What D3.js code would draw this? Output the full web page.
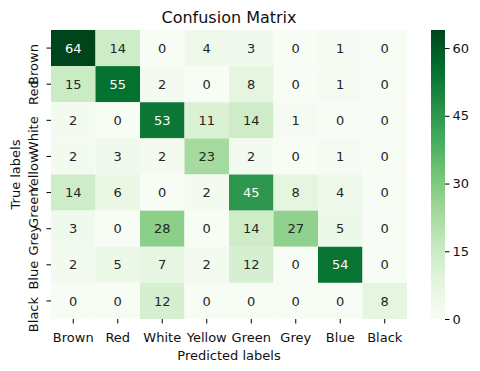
<!DOCTYPE html>
<html>
<head>
<meta charset="utf-8">
<script src="https://cdn.jsdelivr.net/npm/d3@7"></script>
<style>
	body { margin: 0; background: #fff; }
	svg text { font-family: "DejaVu Sans", sans-serif; }
</style>
</head>
<body>
<svg width="480" height="371"></svg>
<script>
// class names, same order on both axes
const labels = [ "Brown", "Red", "White", "Yellow", "Green", "Grey", "Blue", "Black" ];

// one row per true label, columns = predicted label
const row_brown  = [ 64, 14, 0, 4, 3, 0, 1, 0 ];
const row_red    = [ 15, 55, 2, 0, 8, 0, 1, 0 ];
const row_white  = [ 2, 0, 53, 11, 14, 1, 0, 0 ];
const row_yellow = [ 2, 3, 2, 23, 2, 0, 1, 0 ];
const row_green  = [ 14, 6, 0, 2, 45, 8, 4, 0 ];
const row_grey   = [ 3, 0, 28, 0, 14, 27, 5, 0 ];
const row_blue   = [ 2, 5, 7, 2, 12, 0, 54, 0 ];
const row_black  = [ 0, 0, 12, 0, 0, 0, 0, 8 ];

const cbar_ticks = [ 0, 15, 30, 45, 60 ];

const rows = [ row_brown, row_red, row_white, row_yellow, row_green, row_grey, row_blue, row_black ];

// matplotlib "Greens" is a linear ramp over the brewer 9 class colours
const greens = [ "#f7fcf5", "#e5f5e0", "#c7e9c0", "#a1d99b", "#74c476", "#41ab5d", "#238b45", "#006d2c", "#00441b" ];
const vmax = d3.max( rows.flat() );
const color = d3.scaleSequential( d3.piecewise( d3.interpolateRgb, greens ) ).domain( [ 0, vmax ] );

const box = { left: 51, right: 407, top: 30, bottom: 319 };
const cbar = { left: 431, right: 445 };

const svg = d3.select( "svg" );

const x = d3.scaleBand().domain( labels ).range( [ box.left, box.right ] );
const y = d3.scaleBand().domain( labels ).range( [ box.top, box.bottom ] );

const cells = rows.flatMap( ( r, i ) => r.map( ( v, j ) => ( { t: labels[i], p: labels[j], v } ) ) );

// seaborn picks white text on dark cells (relative luminance <= .408)
function lum ( c ) {
	let rgb = d3.rgb( c );
	let f = ch => { ch /= 255; return ch <= 0.03928 ? ch / 12.92 : Math.pow( ( ch + 0.055 ) / 1.055, 2.4 ); };
	return 0.2126 * f( rgb.r ) + 0.7152 * f( rgb.g ) + 0.0722 * f( rgb.b );
}

let g = svg.append( "g" ).attr( "class", "cells" );

g.selectAll( "rect" )
	.data( cells )
	.enter().append( "rect" )
	.attr( "x", d => x( d.p ) )
	.attr( "y", d => y( d.t ) )
	.attr( "width", x.bandwidth() )
	.attr( "height", y.bandwidth() )
	.attr( "fill", d => color( d.v ) );

g.selectAll( "text" )
	.data( cells )
	.enter().append( "text" )
	.attr( "x", d => x( d.p ) + x.bandwidth() / 2 )
	.attr( "y", d => y( d.t ) + y.bandwidth() / 2 )
	.attr( "dy", "0.36em" )
	.attr( "text-anchor", "middle" )
	.style( "font-size", "13px" )
	.style( "fill", d => lum( color( d.v ) ) > 0.408 ? "#262626" : "#ffffff" )
	.text( d => d.v );

// axes
let ax = svg.append( "g" )
	.attr( "transform", "translate(0," + box.bottom + ")" )
	.call( d3.axisBottom( x ).tickSize( 4.5 ) );
ax.select( ".domain" ).remove();
ax.selectAll( "text" )
	.attr( "dy", null )
	.attr( "y", 22.5 )
	.style( "font-size", "13px" )
	.style( "fill", "#111" );

// vertical labels hang from just above their tick, so long names run into the next row
let ay = svg.append( "g" )
	.attr( "transform", "translate(" + box.left + ",0)" )
	.call( d3.axisLeft( y ).tickSize( 4.5 ) );
ay.select( ".domain" ).remove();
ay.selectAll( "text" )
	.attr( "x", null )
	.attr( "dy", null )
	.attr( "text-anchor", "end" )
	.attr( "transform", "translate(-13,-4) rotate(-90)" )
	.style( "font-size", "13px" )
	.style( "fill", "#111" );

// colorbar
let cy = d3.scaleLinear().domain( [ 0, vmax ] ).range( [ box.bottom, box.top ] );
let grad = svg.append( "defs" ).append( "linearGradient" )
	.attr( "id", "cb" )
	.attr( "x1", 0 ).attr( "y1", 1 ).attr( "x2", 0 ).attr( "y2", 0 );
grad.selectAll( "stop" )
	.data( d3.range( 0, 1.0001, 0.05 ) )
	.enter().append( "stop" )
	.attr( "offset", d => d )
	.attr( "stop-color", d => color( d * vmax ) );

svg.append( "rect" )
	.attr( "x", cbar.left )
	.attr( "y", box.top )
	.attr( "width", cbar.right - cbar.left )
	.attr( "height", box.bottom - box.top )
	.attr( "fill", "url(#cb)" );

let ac = svg.append( "g" )
	.attr( "transform", "translate(" + cbar.right + ",0)" )
	.call( d3.axisRight( cy ).tickValues( cbar_ticks ).tickSize( 4.5 ).tickPadding( 3 ) );
ac.select( ".domain" ).remove();
ac.selectAll( "text" )
	.style( "font-size", "13px" )
	.style( "fill", "#111" );

// titles
svg.append( "text" )
	.attr( "x", ( box.left + box.right ) / 2 )
	.attr( "y", 22.7 )
	.attr( "text-anchor", "middle" )
	.style( "font-size", "16px" )
	.style( "fill", "#111" )
	.text( "Confusion Matrix" );

svg.append( "text" )
	.attr( "x", ( box.left + box.right ) / 2 )
	.attr( "y", 360 )
	.attr( "text-anchor", "middle" )
	.style( "font-size", "13px" )
	.style( "fill", "#111" )
	.text( "Predicted labels" );

svg.append( "text" )
	.attr( "transform", "translate(20," + ( box.top + box.bottom ) / 2 + ") rotate(-90)" )
	.attr( "text-anchor", "middle" )
	.style( "font-size", "13px" )
	.style( "fill", "#111" )
	.text( "True labels" );
</script>
</body>
</html>
